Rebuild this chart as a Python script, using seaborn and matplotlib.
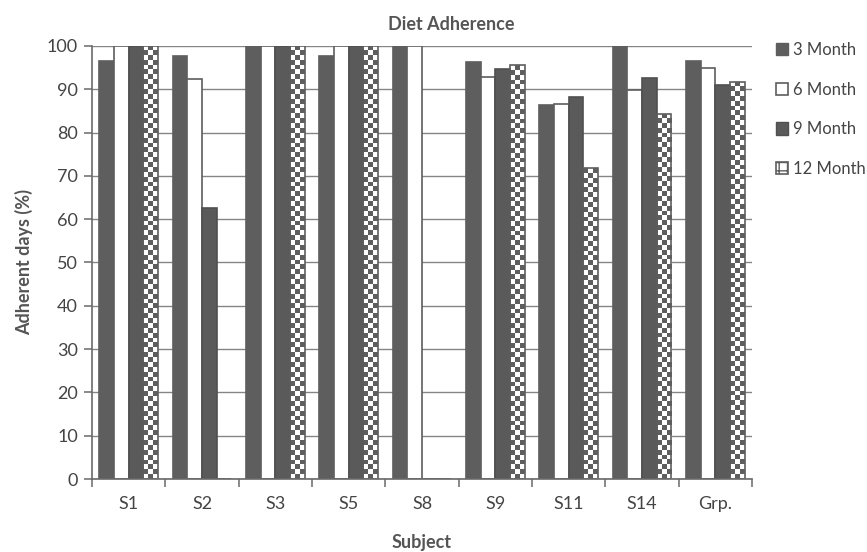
import numpy as np
import pandas as pd
import matplotlib
matplotlib.use("Agg")
import matplotlib.pyplot as plt
from matplotlib.colors import ListedColormap
from matplotlib.patches import Patch
import seaborn as sns

subjects = ["S1", "S2", "S3", "S5", "S8", "S9", "S11", "S14", "Grp."]
series = ["3 Month", "6 Month", "9 Month", "12 Month"]
m3 = [96.5, 97.7, 100, 97.7, 100, 96.4, 86.4, 100, 96.6]
m6 = [100, 92.3, 100, 100, 100, 92.9, 86.6, 89.8, 95.0]
m9 = [100, 62.7, 100, 100, 0, 94.6, 88.3, 92.6, 91.0]
m12 = [100, 0, 100, 100, 0, 95.6, 71.8, 84.4, 91.7]

df = pd.DataFrame({
    "Subject": subjects * 4,
    "Series": [s for s in series for _ in subjects],
    "Value": m3 + m6 + m9 + m12,
})

DARK = "#5e5e5e"
TXT = "#555555"

sns.set_theme(style="white")
plt.rcParams["font.family"] = ["Lato", "DejaVu Sans"]

fig = plt.figure(figsize=(8.67, 5.52), dpi=100)
ax = fig.add_axes([92 / 867, 1 - 479 / 552, (752 - 92) / 867, (479 - 46) / 552])

palette = {"3 Month": DARK, "6 Month": "white", "9 Month": DARK, "12 Month": "white"}
sns.barplot(data=df, x="Subject", y="Value", hue="Series", order=subjects,
            hue_order=series, palette=palette, width=0.8, saturation=1,
            edgecolor=DARK, linewidth=1.2, legend=False, ax=ax)

ax.set_xlim(-0.5, len(subjects) - 0.5)
ax.set_ylim(0, 100)
ax.set_yticks(np.arange(0, 101, 10))

for p in ax.containers[2].patches:
    p.set_facecolor("#5a5a5a")
    p.set_edgecolor("#505050")

# 12 month: checkerboard fill clipped to each bar
cmap = ListedColormap(["white", DARK])
for p in ax.containers[3].patches:
    h = p.get_height()
    if h <= 0:
        continue
    x0, w = p.get_x(), p.get_width()
    (px0, py0) = ax.transData.transform((x0, 0))
    (px1, py1) = ax.transData.transform((x0 + w, h))
    ncols = 3
    sq = abs(px1 - px0) / ncols
    nrows = max(1, int(round(abs(py1 - py0) / sq)))
    arr = (np.add.outer(np.arange(nrows), np.arange(ncols)) % 2).astype(float)
    im = ax.imshow(arr, cmap=cmap, extent=(x0, x0 + w, 0, h), origin="lower",
                   aspect="auto", interpolation="nearest", zorder=0.9, vmin=0, vmax=1)
    im.set_clip_path(p)
    p.set_facecolor("none")

ax.set_xlim(-0.5, len(subjects) - 0.5)
ax.set_ylim(0, 100)

ax.set_axisbelow(True)
ax.yaxis.grid(True, color="#858585", linewidth=1.0)
ax.xaxis.grid(False)
for s in ["top", "right"]:
    ax.spines[s].set_visible(False)
ax.spines["left"].set_color("#6a6a6a")
ax.spines["bottom"].set_color("#6a6a6a")
ax.spines["left"].set_linewidth(1.2)
ax.spines["bottom"].set_linewidth(1.2)

ax.set_xticks(np.arange(-0.5, len(subjects), 1), minor=True)
ax.tick_params(axis="x", which="major", length=0, pad=12, labelsize=13, labelcolor="#444444")
ax.tick_params(axis="x", which="minor", length=6, direction="out", color="#6a6a6a", width=1.1, bottom=True)
ax.tick_params(axis="y", which="major", length=6, direction="out", color="#6a6a6a", width=1.1,
               left=True, labelsize=13, labelcolor="#444444", pad=4)

ax.set_xlabel("Subject", fontsize=13, fontweight="bold", color=TXT, labelpad=16)
ax.set_ylabel("Adherent days (%)", fontsize=13, fontweight="bold", color=TXT, labelpad=10)
fig.text(0.52, 1 - 25 / 552, "Diet Adherence", ha="center", va="center",
         fontsize=13, fontweight="bold", color=TXT)

handles = [
    Patch(facecolor=DARK, edgecolor=DARK),
    Patch(facecolor="white", edgecolor=DARK, linewidth=1.2),
    Patch(facecolor="#5a5a5a", edgecolor="#505050"),
    Patch(facecolor="white", edgecolor=DARK, hatch="++", linewidth=1.2),
]
fig.legend(handles, series, loc="upper left", bbox_to_anchor=(0.895, 0.924),
           frameon=False, fontsize=12, handlelength=0.75, handleheight=0.75,
           handletextpad=0.3, labelspacing=1.42, labelcolor="#444444", borderaxespad=0,
           borderpad=0)

fig.savefig("out.png", dpi=100)
